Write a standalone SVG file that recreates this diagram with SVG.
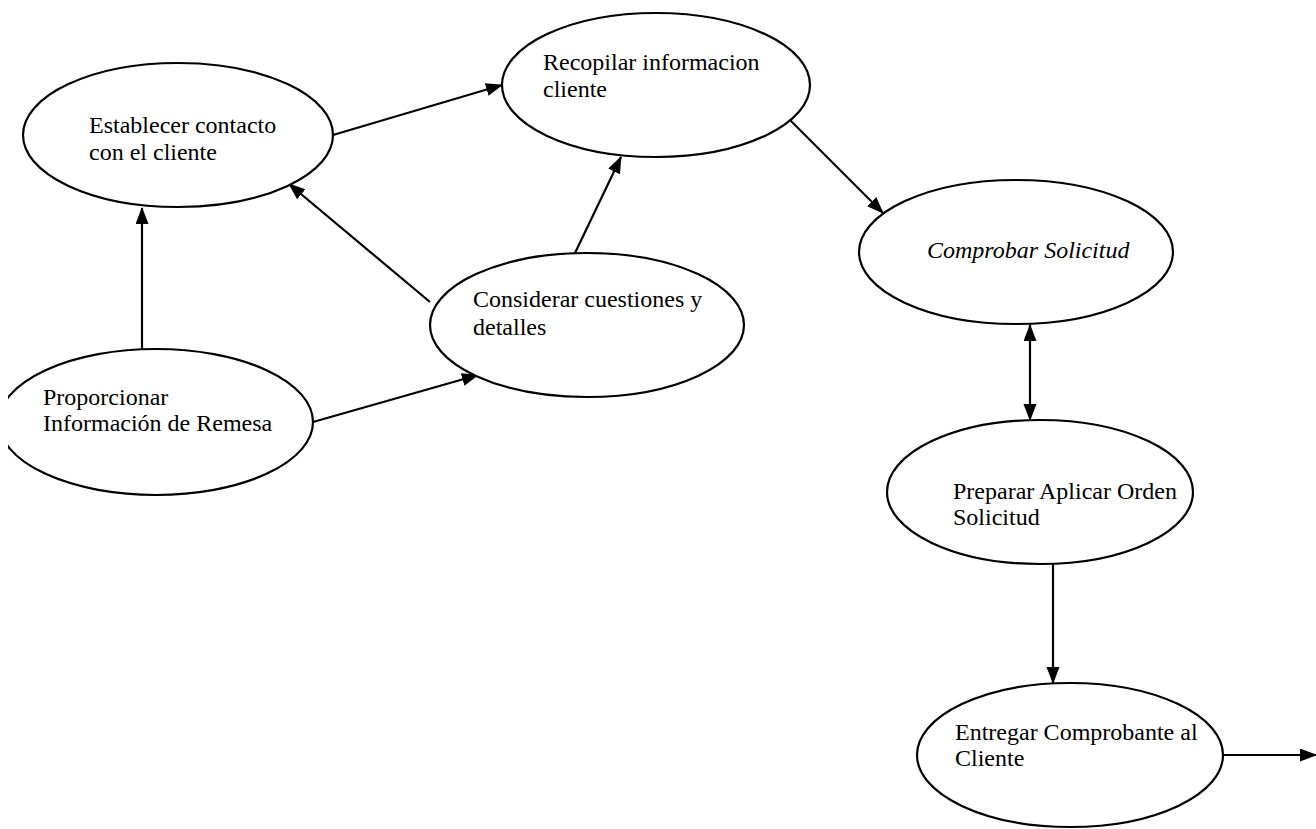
<svg xmlns="http://www.w3.org/2000/svg" width="1316" height="829" viewBox="0 0 1316 829">
<style>
.node ellipse{fill:#fff;stroke:#000;stroke-width:2.2}
.node text{font-family:"Liberation Serif","Times New Roman",serif;font-size:24px;fill:#000}
.conn line{stroke:#000;stroke-width:2.2;fill:none}
</style>
<defs>
<marker id="ah" markerUnits="userSpaceOnUse" markerWidth="18" markerHeight="14" refX="16" refY="6.5" orient="auto-start-reverse">
<path d="M0,0 L17,6.5 L0,13 z" fill="#000"/>
</marker>
<clipPath id="clipE"><rect x="8" y="0" width="1316" height="829"/></clipPath>
</defs>
<rect width="1316" height="829" fill="#fff"/>
<g id="connectors" class="conn">
<line x1="142" y1="352" x2="142" y2="208" marker-end="url(#ah)"/>
<line x1="430" y1="302" x2="289" y2="184" marker-end="url(#ah)"/>
<line x1="575" y1="253" x2="621" y2="157" marker-end="url(#ah)"/>
<line x1="333" y1="135" x2="502" y2="85" marker-end="url(#ah)"/>
<line x1="313" y1="422" x2="478" y2="375" marker-end="url(#ah)"/>
<line x1="790" y1="120" x2="883" y2="213" marker-end="url(#ah)"/>
<line x1="1030" y1="325" x2="1030" y2="420" marker-start="url(#ah)" marker-end="url(#ah)"/>
<line x1="1053" y1="564" x2="1053" y2="683" marker-end="url(#ah)"/>
<line x1="1223" y1="755" x2="1316" y2="755" marker-end="url(#ah)"/>
</g>
<g id="n-establecer" class="node">
<ellipse cx="178" cy="135" rx="155" ry="72"/>
<text x="89" y="133">Establecer contacto</text>
<text x="89" y="160">con el cliente</text>
</g>
<g id="n-recopilar" class="node">
<ellipse cx="656" cy="85" rx="154" ry="72"/>
<text x="543" y="70">Recopilar informacion</text>
<text x="543" y="97">cliente</text>
</g>
<g id="n-comprobar" class="node">
<ellipse cx="1016" cy="252" rx="157" ry="72"/>
<text x="927" y="258" font-style="italic">Comprobar Solicitud</text>
</g>
<g id="n-considerar" class="node">
<ellipse cx="587" cy="325" rx="157" ry="72"/>
<text x="473" y="307">Considerar cuestiones y</text>
<text x="473" y="335">detalles</text>
</g>
<g id="n-proporcionar" class="node">
<ellipse cx="156" cy="422" rx="157" ry="73" clip-path="url(#clipE)"/>
<text x="43" y="405">Proporcionar</text>
<text x="43" y="431">Información de Remesa</text>
</g>
<g id="n-preparar" class="node">
<ellipse cx="1040" cy="492" rx="153" ry="72"/>
<text x="953" y="499">Preparar Aplicar Orden</text>
<text x="953" y="525">Solicitud</text>
</g>
<g id="n-entregar" class="node">
<ellipse cx="1070" cy="755" rx="153" ry="72"/>
<text x="955" y="740">Entregar Comprobante al</text>
<text x="955" y="766">Cliente</text>
</g>
</svg>
